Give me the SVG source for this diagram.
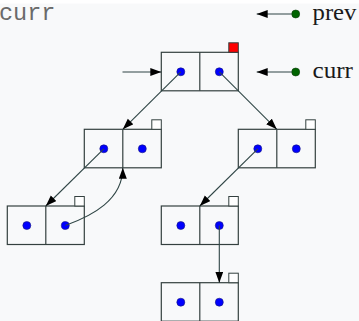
<svg xmlns="http://www.w3.org/2000/svg" xmlns:xlink="http://www.w3.org/1999/xlink" width="359" height="321" viewBox="0 0 359 321">
  <style>
    .cell { fill: none; stroke: #34403f; stroke-width: 1.2; }
    .tag { fill: #ffffff; stroke: #34403f; stroke-width: 1; }
    .tag-hot { fill: #ff0000; stroke: #34403f; stroke-width: 1; }
    .ptr { fill: #0000ff; stroke: #1a1a7a; stroke-width: 0.6; }
    .var { fill: #006400; stroke: #0b3d0b; stroke-width: 0.6; }
    .edge { fill: none; stroke: #2f4545; stroke-width: 1.1; marker-end: url(#head); }
    .label { font-family: "Liberation Serif", "Times New Roman", serif; font-size: 23px; fill: #1a1a1a; }
    .code { font-family: "Liberation Mono", "Courier New", monospace; font-size: 23.5px; fill: #6a6a6a; }
  </style>
  <defs>
    <marker id="head" markerUnits="userSpaceOnUse" markerWidth="12" markerHeight="9" refX="11" refY="4" orient="auto">
      <path d="M0,0 L11,4 L0,8 Z" fill="#000000"/>
    </marker>
    <!-- two-cell list node: outline, divider and the two pointer dots -->
    <g id="pair">
      <rect class="cell" x="0" y="0" width="77" height="38.5"/>
      <line class="cell" x1="38.5" y1="0" x2="38.5" y2="38.5"/>
      <circle class="ptr" cx="19.5" cy="19.5" r="4"/>
      <circle class="ptr" cx="58" cy="19.5" r="4"/>
    </g>
  </defs>

  <rect x="0" y="0" width="359" height="321" fill="#f8f9fa"/>
  <rect x="0" y="0" width="359" height="3.5" fill="#ffffff"/>

  <text class="code" x="-1" y="20">curr</text>

  <g id="n0" transform="translate(161.3,52.3)">
    <use xlink:href="#pair"/>
    <rect class="tag-hot" x="67.5" y="-9.5" width="9.5" height="9.5"/>
  </g>
  <g id="n1" transform="translate(84.3,129.3)">
    <use xlink:href="#pair"/>
    <rect class="tag" x="67.5" y="-9.5" width="9.5" height="9.5"/>
  </g>
  <g id="n2" transform="translate(238.3,129.3)">
    <use xlink:href="#pair"/>
    <rect class="tag" x="67.5" y="-9.5" width="9.5" height="9.5"/>
  </g>
  <g id="n3" transform="translate(7.3,206)">
    <use xlink:href="#pair"/>
    <rect class="tag" x="67.5" y="-9.5" width="9.5" height="9.5"/>
  </g>
  <g id="n4" transform="translate(161.3,206)">
    <use xlink:href="#pair"/>
    <rect class="tag" x="67.5" y="-9.5" width="9.5" height="9.5"/>
  </g>
  <g id="n5" transform="translate(161.3,282.7)">
    <use xlink:href="#pair"/>
    <rect class="tag" x="67.5" y="-9.5" width="9.5" height="9.5"/>
  </g>

  <g id="prev-var">
    <circle class="var" cx="295.7" cy="14" r="4"/>
    <text class="label" x="312.5" y="20" textLength="44" lengthAdjust="spacingAndGlyphs">prev</text>
  </g>
  <g id="curr-var">
    <circle class="var" cx="295.7" cy="72" r="4"/>
    <text class="label" x="312.5" y="78" textLength="40.5" lengthAdjust="spacingAndGlyphs">curr</text>
  </g>

  <g id="connectors">
    <line class="edge" x1="122.5" y1="72" x2="161.3" y2="72"/>
    <line class="edge" x1="291.7" y1="14" x2="256.7" y2="14"/>
    <line class="edge" x1="291.7" y1="72" x2="256.7" y2="72"/>
    <line class="edge" x1="180.8" y1="71.8" x2="122.8" y2="129.3"/>
    <line class="edge" x1="219.3" y1="71.8" x2="276.8" y2="129.3"/>
    <line class="edge" x1="103.8" y1="148.8" x2="45.8" y2="206"/>
    <path class="edge" d="M65.3,225.5 C92,216 122.8,200 122.8,167.8"/>
    <line class="edge" x1="257.8" y1="148.8" x2="199.8" y2="206"/>
    <line class="edge" x1="219.3" y1="225.5" x2="219.3" y2="282.7"/>
  </g>
</svg>
